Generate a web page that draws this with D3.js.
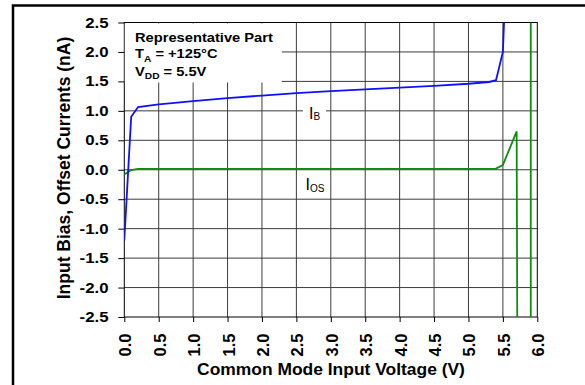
<!DOCTYPE html>
<html>
<head>
<meta charset="utf-8">
<script src="https://cdn.jsdelivr.net/npm/d3@7/dist/d3.min.js"></script>
<style>
  html, body { margin: 0; padding: 0; background: #fff; }
  svg { display: block; }
  text { font-family: "Liberation Sans", Arial, Helvetica, sans-serif; fill: #000; }
</style>
</head>
<body>
<svg id="chart" width="585" height="385"></svg>
<script>
// Axis ticks
const xTickValues = [0, 0.5, 1.0, 1.5, 2.0, 2.5, 3.0, 3.5, 4.0, 4.5, 5.0, 5.5, 6.0];
const yTickValues = [-2.5, -2.0, -1.5, -1.0, -0.5, 0.0, 0.5, 1.0, 1.5, 2.0, 2.5];

// Input bias current I_B (nA) vs common mode input voltage (V)
const ibVoltage = [0, 0.1, 0.2, 0.5, 1.0, 1.5, 2.0, 2.5, 3.0, 3.5, 4.0, 4.5, 5.0, 5.3, 5.4, 5.5, 5.52];
const ibCurrent = [-1.2, 0.9, 1.065, 1.11, 1.165, 1.215, 1.26, 1.30, 1.335, 1.365, 1.395, 1.425, 1.46, 1.49, 1.52, 2.0, 2.6];

// Input offset current I_OS (nA) vs common mode input voltage (V)
const iosVoltage = [0, 0.1, 0.2, 0.5, 1.0, 1.5, 2.0, 2.5, 3.0, 3.5, 4.0, 4.5, 5.0, 5.4, 5.5, 5.7, 5.71, 5.905, 5.905];
const iosCurrent = [-0.08, -0.005, 0.015, 0.015, 0.015, 0.015, 0.015, 0.015, 0.015, 0.015, 0.015, 0.015, 0.015, 0.02, 0.08, 0.65, -3, -3, 3];

const svg = d3.select("#chart");

// Plot area
const plotLeft = 124.3, plotRight = 537.3, plotTop = 22.5, plotBottom = 317;
const x = d3.scaleLinear().domain([0, 6]).range([plotLeft, plotRight]);
const y = d3.scaleLinear().domain([-2.5, 2.5]).range([plotBottom, plotTop]);

// Outer frame
svg.append("rect")
  .attr("x", 13).attr("y", 5.5)
  .attr("width", 620).attr("height", 420)
  .attr("fill", "none").attr("stroke", "#000").attr("stroke-width", 2.5);

// Grid
const grid = svg.append("g").attr("stroke", "#3c3c3c").attr("stroke-width", 1);
grid.selectAll("line.v").data(xTickValues.slice(1, -1)).join("line")
  .attr("class", "v")
  .attr("x1", d => x(d)).attr("x2", d => x(d))
  .attr("y1", plotTop).attr("y2", plotBottom);
grid.selectAll("line.h").data(yTickValues.slice(1, -1)).join("line")
  .attr("class", "h")
  .attr("x1", plotLeft).attr("x2", plotRight)
  .attr("y1", d => y(d)).attr("y2", d => y(d));

// Axes with outward ticks
const xAxis = d3.axisBottom(x).tickValues(xTickValues).tickSize(5).tickFormat("");
const yAxis = d3.axisLeft(y).tickValues(yTickValues).tickSize(6).tickFormat("");
const gx = svg.append("g").attr("transform", `translate(0,${plotBottom})`).call(xAxis);
const gy = svg.append("g").attr("transform", `translate(${plotLeft},0)`).call(yAxis);
[gx, gy].forEach(g => {
  g.select(".domain").remove();
  g.selectAll(".tick line").attr("stroke", "#000").attr("stroke-width", 1);
});

// Plot border
svg.append("rect")
  .attr("x", plotLeft).attr("y", plotTop)
  .attr("width", plotRight - plotLeft).attr("height", plotBottom - plotTop)
  .attr("fill", "none").attr("stroke", "#000").attr("stroke-width", 1);

// Y tick labels
svg.append("g").selectAll("text").data(yTickValues).join("text")
  .attr("transform", d => `translate(108.5,${y(d)}) scale(1.2,1)`)
  .attr("dy", "0.36em")
  .attr("text-anchor", "end")
  .attr("font-size", 14).attr("font-weight", "bold")
  .text(d => d.toFixed(1));

// X tick labels (rotated)
svg.append("g").selectAll("text").data(xTickValues).join("text")
  .attr("transform", d => `translate(${x(d) + 1},333.5) rotate(-90)`)
  .attr("dy", "0.36em")
  .attr("text-anchor", "end")
  .attr("font-size", 16.5).attr("font-weight", "bold")
  .text(d => d.toFixed(1));

// Axis titles
svg.append("text")
  .attr("transform", "translate(331,375) scale(1.09,1)")
  .attr("text-anchor", "middle")
  .attr("font-size", 16).attr("font-weight", "bold")
  .text("Common Mode Input Voltage (V)");

svg.append("text")
  .attr("transform", "translate(70,168) rotate(-90)")
  .attr("text-anchor", "middle")
  .attr("font-size", 17.5).attr("font-weight", "bold")
  .text("Input Bias, Offset Currents (nA)");

// Curves
svg.append("clipPath").attr("id", "plot-clip")
  .append("rect")
  .attr("x", plotLeft).attr("y", plotTop)
  .attr("width", plotRight - plotLeft).attr("height", plotBottom - plotTop);

const line = d3.line().x(d => x(d[0])).y(d => y(d[1]));
const curves = svg.append("g").attr("clip-path", "url(#plot-clip)");

curves.append("path")
  .datum(d3.zip(iosVoltage, iosCurrent))
  .attr("d", line)
  .attr("fill", "none").attr("stroke", "#108a10").attr("stroke-width", 1.8)
  .attr("stroke-linejoin", "miter");

curves.append("path")
  .datum(d3.zip(ibVoltage, ibCurrent))
  .attr("d", line)
  .attr("fill", "none").attr("stroke", "#1010ff").attr("stroke-width", 1.8)
  .attr("stroke-linejoin", "miter");

// Conditions note
svg.append("rect")
  .attr("x", plotLeft + 0.5).attr("y", 23.5)
  .attr("width", 157).attr("height", 59)
  .attr("fill", "#fff");

const note = svg.append("g")
  .attr("transform", "translate(135,0) scale(1.13,1)")
  .attr("font-weight", "bold");
note.append("text").attr("y", 41.7).attr("font-size", 13).text("Representative Part");
const tLine = note.append("text").attr("y", 58.3).attr("font-size", 13);
tLine.append("tspan").text("T");
tLine.append("tspan").attr("font-size", 9).attr("dy", 4).text("A");
tLine.append("tspan").attr("dy", -4).text(" = +125°C");
const vLine = note.append("text").attr("y", 76).attr("font-size", 13);
vLine.append("tspan").text("V");
vLine.append("tspan").attr("font-size", 9).attr("dy", 3.5).text("DD");
vLine.append("tspan").attr("dy", -3.5).text(" = 5.5V");

// Curve labels
svg.append("rect")
  .attr("x", 303).attr("y", 101)
  .attr("width", 23).attr("height", 22)
  .attr("fill", "#fff");
const ibLabel = svg.append("text").attr("x", 309).attr("y", 119.3).attr("font-size", 16);
ibLabel.append("tspan").text("I");
ibLabel.append("tspan").attr("font-size", 10).attr("dy", 1).text("B");

const iosLabel = svg.append("text").attr("x", 305.5).attr("y", 190).attr("font-size", 16);
iosLabel.append("tspan").text("I");
iosLabel.append("tspan").attr("font-size", 10).attr("dy", 1.5).text("OS");
</script>
</body>
</html>
